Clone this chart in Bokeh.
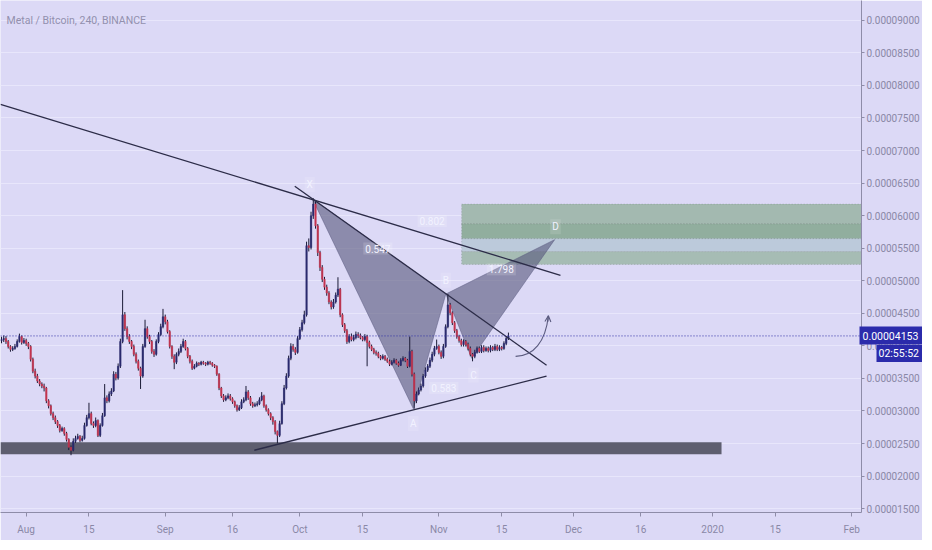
from bokeh.plotting import figure
from bokeh.models import (FixedTicker, Span, Label, BoxAnnotation, Arrow, OpenHead,
                          ColumnDataSource, LinearAxis)
from bokeh.embed import file_html
from bokeh.resources import INLINE

# ---------------- data (prices in satoshi = 1e-8 BTC) ----------------
# candles: one per 12 hours, time in days since 2019-08-01
candle_start_day = -5.5
candle_step_days = 0.5
first_open = 4080
closes = [
    4097, 4112, 4067, 3991, 3946, 3961, 3991, 4067, 4143, 4052,
    4082, 4037, 3991, 3794, 3611, 3536, 3460, 3414, 3384, 3353,
    3156, 3080, 2959, 2898, 2837, 2777, 2701, 2731, 2655, 2564,
    2443, 2397, 2534, 2579, 2610, 2549, 2579, 2777, 2898, 2959,
    2807, 2777, 2853, 2625, 2777, 2928, 3202, 3156, 3262, 3308,
    3566, 3505, 3687, 4067, 4477, 4264, 4143, 4067, 3991, 3870,
    3763, 3657, 3536, 3991, 4264, 4143, 4067, 3915, 3870, 4067,
    4173, 4295, 4446, 4370, 4219, 3991, 3839, 3748, 3870, 3915,
    3991, 4067, 3961, 3839, 3763, 3657, 3687, 3733, 3718, 3748,
    3733, 3718, 3748, 3733, 3703, 3687, 3566, 3353, 3232, 3171,
    3202, 3232, 3187, 3141, 3080, 3019, 3050, 3141, 3171, 3293,
    3202, 3111, 3080, 3096, 3111, 3171, 3232, 3080, 3019, 2959,
    2898, 2837, 2686, 2625, 2807, 3111, 3353, 3536, 3809, 3991,
    3946, 3900, 4112, 4249, 4355, 4477, 5539, 5509, 5998, 6177,
    5843, 5433, 5205, 5023, 4902, 4811, 4674, 4598, 4674, 4780,
    4871, 4477, 4325, 4234, 4067, 4143, 4097, 4128, 4173, 4158,
    4128, 4097, 4143, 4052, 3991, 3946, 3900, 3885, 3839, 3809,
    3839, 3794, 3763, 3718, 3748, 3779, 3733, 3703, 3779, 3809,
    3779, 3687, 3915, 3566, 3156, 3262, 3323, 3384, 3536, 3627,
    3687, 3779, 3870, 3961, 3991, 3900, 3839, 3991, 4295, 4629,
    4507, 4355, 4234, 4143, 4082, 4021, 4067, 4021, 3961, 3870,
    3839, 3900, 3961, 3915, 3976, 3930, 3961, 3930, 3976, 3946,
    3991, 3946, 3976, 3961, 4037, 4112, 4153,
]
highs = [
    4140, 4160, 4150, 4090, 4010, 3995, 4030, 4100, 4188, 4160,
    4120, 4110, 4060, 4010, 3820, 3650, 3570, 3490, 3440, 3420,
    3370, 3180, 3100, 2990, 2930, 2860, 2800, 2760, 2750, 2680,
    2580, 2470, 2580, 2620, 2650, 2630, 2620, 2820, 2940, 3126,
    2990, 2840, 2900, 2870, 2810, 2970, 3414, 3240, 3300, 3350,
    3610, 3600, 3730, 4110, 4856, 4520, 4300, 4180, 4090, 4020,
    3900, 3790, 3680, 4030, 4401, 4300, 4170, 4090, 3950, 4100,
    4210, 4340, 4568, 4480, 4400, 4240, 4010, 3870, 3900, 3960,
    4030, 4110, 4090, 3980, 3860, 3790, 3720, 3760, 3750, 3770,
    3770, 3750, 3770, 3770, 3750, 3720, 3700, 3580, 3370, 3260,
    3240, 3270, 3260, 3210, 3160, 3100, 3090, 3180, 3210, 3384,
    3320, 3230, 3140, 3130, 3150, 3210, 3290, 3250, 3100, 3040,
    2980, 2920, 2860, 2700, 2850, 3150, 3400, 3580, 3850, 4040,
    4030, 3980, 4150, 4290, 4400, 4540, 5600, 5650, 6060, 6268,
    6220, 5870, 5460, 5240, 5060, 4940, 4840, 4700, 4720, 4820,
    5054, 4890, 4500, 4350, 4260, 4180, 4190, 4170, 4220, 4210,
    4190, 4150, 4180, 4170, 4080, 4020, 3970, 3930, 3910, 3860,
    3870, 3860, 3820, 3790, 3780, 3810, 3800, 3760, 3810, 3840,
    3830, 3800, 4143, 3940, 3590, 3300, 3360, 3420, 3570, 3670,
    3720, 3820, 3910, 4000, 4097, 4020, 3930, 4030, 4330, 4796,
    4660, 4530, 4380, 4260, 4170, 4110, 4100, 4090, 4050, 3990,
    3890, 3940, 3990, 3990, 4010, 4010, 3990, 3990, 4010, 4000,
    4030, 4020, 4010, 4000, 4070, 4150, 4204,
]
lows = [
    4040, 4060, 4030, 3960, 3910, 3920, 3940, 3975, 4050, 4020,
    4030, 4000, 3950, 3760, 3580, 3500, 3430, 3380, 3350, 3300,
    3120, 3040, 2930, 2860, 2800, 2740, 2670, 2680, 2620, 2530,
    2400, 2321, 2380, 2510, 2560, 2520, 2530, 2560, 2760, 2870,
    2780, 2740, 2750, 2600, 2600, 2760, 2910, 3120, 3130, 3230,
    3290, 3470, 3480, 3660, 4040, 4230, 4100, 4030, 3950, 3840,
    3730, 3620, 3338, 3510, 3970, 4110, 4030, 3880, 3830, 3850,
    4040, 4150, 4270, 4330, 4190, 3960, 3800, 3642, 3720, 3840,
    3890, 3970, 3930, 3810, 3730, 3630, 3640, 3670, 3690, 3700,
    3710, 3690, 3700, 3710, 3680, 3660, 3540, 3320, 3200, 3140,
    3150, 3180, 3160, 3110, 3050, 2990, 3000, 3030, 3120, 3150,
    3170, 3080, 3050, 3060, 3070, 3090, 3150, 3050, 2990, 2930,
    2860, 2790, 2640, 2504, 2600, 2790, 3090, 3330, 3510, 3780,
    3910, 3860, 3880, 4090, 4220, 4330, 4450, 5450, 5480, 5950,
    5800, 5380, 5150, 4980, 4860, 4770, 4640, 4560, 4570, 4650,
    4750, 4440, 4290, 4200, 4030, 4040, 4070, 4070, 4100, 4120,
    4100, 4070, 4070, 3687, 3960, 3920, 3870, 3850, 3810, 3780,
    3790, 3770, 3740, 3690, 3700, 3730, 3710, 3680, 3690, 3760,
    3750, 3660, 3670, 3530, 3035, 3120, 3240, 3300, 3360, 3510,
    3600, 3660, 3750, 3840, 3940, 3870, 3800, 3810, 3970, 4270,
    4470, 4320, 4200, 4110, 4050, 3990, 3990, 3990, 3930, 3840,
    3763, 3810, 3880, 3890, 3890, 3900, 3910, 3900, 3900, 3920,
    3920, 3920, 3920, 3930, 3940, 4010, 4090,
]
last_price = 4153
countdown = "02:55:52"
countdown_row_price = 3884   # price level at which the countdown box sits (just under the price box)

# axis ticks
x_tick_days = [0, 14, 31, 46, 61, 75, 92, 106, 122, 137, 153, 167, 184]
x_tick_labels = ["Aug", "15", "Sep", "16", "Oct", "15", "Nov", "15", "Dec", "16", "2020", "15", "Feb"]
y_tick_values = [1500, 2000, 2500, 3000, 3500, 4000, 4500, 5000, 5500, 6000, 6500, 7000, 7500, 8000, 8500, 9000]

# drawings (days, satoshi)
trend_x0 = [-5.72, 59.87, 50.85]
trend_y0 = [7710, 6450, 2397]
trend_x1 = [119.1, 116.0, 116.0]
trend_y1 = [5084, 3703, 3536]

pattern_names = ["X", "A", "B", "C", "D"]
pattern_x = [63.8, 86.3, 93.55, 99.3, 117.8]
pattern_y = [6260, 3035, 4796, 3809, 5631]
pattern_label_x = [63.2, 86.3, 93.55, 99.7, 118.0]
pattern_label_y = [6480, 2807, 5008, 3551, 5828]

ratio_texts = ["0.547", "0.802", "1.798", "0.583"]
ratio_x = [78.4, 90.5, 105.9, 93.1]
ratio_y = [5494, 5919, 5175, 3354]

zone_left_day = 97.07
zone_levels = [6177, 5873, 5646, 5448, 5251]
zone_colors = ["#a3b9b0", "#91ae9e", "#bccadb", "#a6bcb4"]

support_right_day = 155.0
support_low = 2336
support_high = 2518

curve_start = (109.1, 3839)
curve_c1 = (113.1, 3839)
curve_c2 = (115.8, 4067)
curve_end = (116.4, 4462)

# ---------------- styling ----------------
BG = "#dcd9f6"
AXIS = "#8e8ca8"
TXT = "#8a88a6"
FONT = "Roboto"
UP_BODY = "#2a2a6e"
DOWN_BODY = "#c4344f"
WICK = "#1b1b36"
BADGE = "#2b2bab"

X_START, X_END = -5.72, 186.2
Y_START, Y_END = 1441, 9304
RIGHT_W, BOTTOM_H = 60, 28
PRICE_AXIS_W = 63   # expected width of the main price-axis panel

p = figure(width=922, height=540,
           x_range=(X_START, X_END), y_range=(Y_START, Y_END),
           y_axis_location="right", output_backend="svg", toolbar_location=None,
           min_border_left=0, min_border_top=0, min_border_right=RIGHT_W, min_border_bottom=BOTTOM_H,
           background_fill_color=BG, border_fill_color=BG, outline_line_color=None)

# axes
p.xaxis.ticker = FixedTicker(ticks=x_tick_days)
p.xaxis.major_label_overrides = {d: t for d, t in zip(x_tick_days, x_tick_labels)}
p.yaxis.ticker = FixedTicker(ticks=y_tick_values)
p.yaxis.major_label_overrides = {v: "0.%08d" % v for v in y_tick_values}
for ax in (p.xaxis, p.yaxis):
    ax.axis_line_color = AXIS
    ax.major_tick_line_color = AXIS
    ax.minor_tick_line_color = None
    ax.major_tick_out = 4
    ax.major_tick_in = 0
    ax.major_label_text_color = TXT
    ax.major_label_text_font = FONT
    ax.major_label_text_font_size = "10px"
p.yaxis.major_tick_out = 3
p.yaxis.major_label_standoff = 2
p.xaxis.major_label_standoff = 7
p.xgrid.grid_line_color = None
p.ygrid.grid_line_color = "#e8e6fb"
p.ygrid.grid_line_width = 1

# price badge + countdown badge: extra axes stacked outside the price axis that draw
# inward (thick ticks = badge boxes, negative standoff = labels inside the boxes)
price_axis = LinearAxis(ticker=FixedTicker(ticks=[last_price]),
                        major_label_overrides={last_price: "0.%08d" % last_price},
                        axis_line_color=None, minor_tick_line_color=None,
                        major_tick_line_color=BADGE, major_tick_line_width=18,
                        major_tick_in=PRICE_AXIS_W, major_tick_out=0,
                        major_label_standoff=3 - PRICE_AXIS_W,
                        major_label_text_color="#ffffff", major_label_text_font=FONT,
                        major_label_text_font_size="10.5px")
p.add_layout(price_axis, "right")
timer_axis = LinearAxis(ticker=FixedTicker(ticks=[countdown_row_price]),
                        major_label_overrides={countdown_row_price: countdown},
                        axis_line_color=None, minor_tick_line_color=None,
                        major_tick_line_color=BADGE, major_tick_line_width=17,
                        major_tick_in=46, major_tick_out=0, major_label_standoff=-44,
                        major_label_text_color="#ffffff", major_label_text_font=FONT,
                        major_label_text_font_size="10.5px")
p.add_layout(timer_axis, "right")

# zone bands and support band
for i, col in enumerate(zone_colors):
    p.add_layout(BoxAnnotation(left=zone_left_day, bottom=zone_levels[i + 1], top=zone_levels[i],
                               fill_color=col, fill_alpha=1.0, line_color="#5c6b66",
                               line_dash="1 2", line_width=1, level="underlay"))
p.add_layout(BoxAnnotation(right=support_right_day, bottom=support_low, top=support_high,
                           fill_color="#5e5e6f", fill_alpha=1.0, line_color=None, level="underlay"))

# harmonic pattern triangles
p.patches([[pattern_x[0], pattern_x[1], pattern_x[2]], [pattern_x[2], pattern_x[3], pattern_x[4]]],
          [[pattern_y[0], pattern_y[1], pattern_y[2]], [pattern_y[2], pattern_y[3], pattern_y[4]]],
          fill_color="#56567c", fill_alpha=0.6, line_color="#5a5a80", line_alpha=0.5, line_width=1)

# candles
opens = [first_open] + closes[:-1]
days = [candle_start_day + i * candle_step_days for i in range(len(closes))]
up = [c >= o for o, c in zip(opens, closes)]
src = ColumnDataSource(dict(
    x=days, high=highs, low=lows,
    top=[max(o, c) for o, c in zip(opens, closes)],
    bottom=[min(o, c) for o, c in zip(opens, closes)],
    color=[UP_BODY if u else DOWN_BODY for u in up]))
p.segment(x0="x", y0="high", x1="x", y1="low", source=src, line_color=WICK, line_width=1)
p.vbar(x="x", width=0.3, top="top", bottom="bottom", source=src,
       fill_color="color", line_color="color", line_width=0.6)

# trend lines
p.segment(trend_x0, trend_y0, trend_x1, trend_y1, line_color="#2c2c48", line_width=1.3)

# current price line
p.add_layout(Span(location=last_price, dimension="width", line_color="#3030a6",
                  line_dash="1 2", line_width=1))

# curved arrow
p.bezier(x0=[curve_start[0]], y0=[curve_start[1]], x1=[curve_end[0]], y1=[curve_end[1]],
         cx0=[curve_c1[0]], cy0=[curve_c1[1]], cx1=[curve_c2[0]], cy1=[curve_c2[1]],
         line_color="#5a5a7e", line_width=1.1)
p.add_layout(Arrow(end=OpenHead(size=6, line_color="#5a5a7e", line_width=1.1),
                   x_start=curve_end[0] - 0.1, y_start=curve_end[1] - 90,
                   x_end=curve_end[0], y_end=curve_end[1],
                   line_color="#5a5a7e", line_width=1.1))

# pattern labels
for name, lx, ly in zip(pattern_names, pattern_label_x, pattern_label_y):
    p.add_layout(Label(x=lx, y=ly, text=name, text_align="center", text_baseline="middle",
                       text_color="#f2f2ff", text_font=FONT, text_font_size="10px",
                       background_fill_color="#ffffff", background_fill_alpha=0.12, padding=2))
for t, lx, ly in zip(ratio_texts, ratio_x, ratio_y):
    p.add_layout(Label(x=lx, y=ly, text=t, text_align="center", text_baseline="middle",
                       text_color="#f2f2ff", text_font=FONT, text_font_size="10px",
                       background_fill_color="#ffffff", background_fill_alpha=0.16, padding=2))

# title
p.add_layout(Label(x=X_START, y=Y_END, x_offset=6, y_offset=-20, text="Metal / Bitcoin, 240, BINANCE",
                   text_color="#9290ae", text_font=FONT, text_font_size="10.5px",
                   text_baseline="alphabetic"))

open("out.html", "w").write(file_html(p, INLINE))
